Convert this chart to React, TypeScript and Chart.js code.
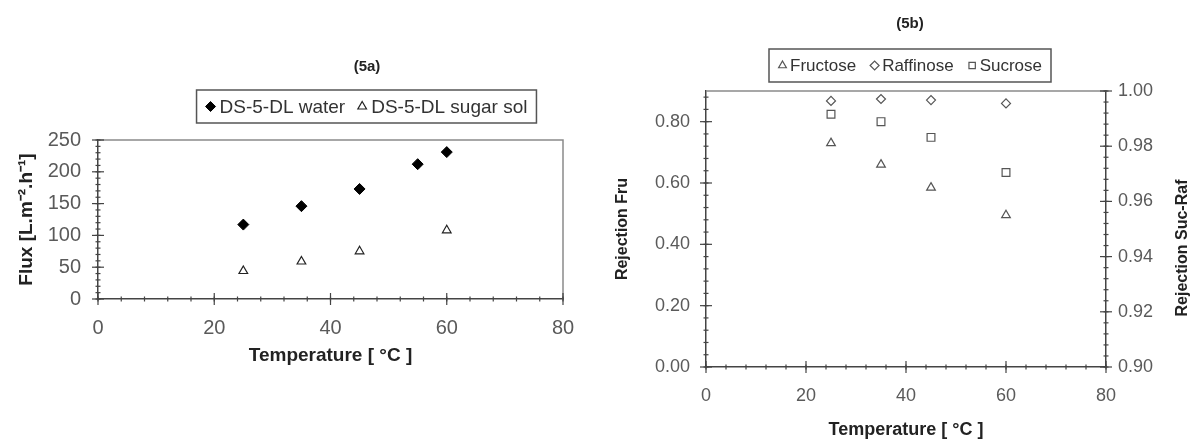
import React, { useEffect, useRef } from 'react';
import { Chart, registerables } from 'chart.js';

Chart.register(...registerables);

// ---------- data ----------
const TEMP_WATER = [25, 35, 45, 55, 60];
const FLUX_WATER = [117, 146, 173, 212, 231];
const TEMP_SUGAR = [25, 35, 45, 60];
const FLUX_SUGAR = [44, 59, 75, 108];

const TEMP_B = [25, 35, 45, 60];
const REJ_FRUCTOSE = [0.73, 0.66, 0.585, 0.495];
const REJ_RAFFINOSE = [0.9964, 0.9971, 0.9967, 0.9955];
const REJ_SUCROSE = [0.9916, 0.9889, 0.9832, 0.9705];

const X_TICKS = [0, 20, 40, 60, 80];
const FLUX_TICKS = [0, 50, 100, 150, 200, 250];
const FRU_TICKS = [0, 0.2, 0.4, 0.6, 0.8];
const SUCRAF_TICKS = [0.9, 0.92, 0.94, 0.96, 0.98, 1.0];

const LABELS_A = ['DS-5-DL water', 'DS-5-DL sugar sol'];
const LABELS_B = ['Fructose', 'Raffinose', 'Sucrose'];

const FONT = "'Liberation Sans', Arial, Helvetica, sans-serif";
const AXIS_COLOR = '#444';
const TICK_TEXT = '#5a5a5a';
const TITLE_TEXT = '#222';

// ---------- helpers ----------
function drawMarker(ctx: CanvasRenderingContext2D, style: string, x: number, y: number, r: number, fill: string | null, stroke: string | null, lw: number) {
  ctx.beginPath();
  if (style === 'rectRot') {
    ctx.moveTo(x - r, y);
    ctx.lineTo(x, y - r);
    ctx.lineTo(x + r, y);
    ctx.lineTo(x, y + r);
    ctx.closePath();
  } else if (style === 'triangle') {
    ctx.moveTo(x, y - r);
    ctx.lineTo(x + r * 0.866, y + r / 2);
    ctx.lineTo(x - r * 0.866, y + r / 2);
    ctx.closePath();
  } else {
    const s = r * Math.SQRT1_2;
    ctx.rect(x - s, y - s, 2 * s, 2 * s);
  }
  if (fill) {
    ctx.fillStyle = fill;
    ctx.fill();
  }
  if (stroke) {
    ctx.strokeStyle = stroke;
    ctx.lineWidth = lw;
    ctx.stroke();
  }
}

type TickSpec = { id: string; side: 'bottom' | 'left' | 'right'; majors: number[]; minorStep: number; min: number; max: number };

function decorPlugin(cfg: any) {
  return {
    id: 'decor',
    beforeDatasetsDraw(chart: any) {
      const { ctx, chartArea: a } = chart;
      ctx.save();
      ctx.strokeStyle = '#8a8a8a';
      ctx.lineWidth = 1.5;
      ctx.beginPath();
      ctx.moveTo(a.left, a.top);
      ctx.lineTo(a.right, a.top);
      if (cfg.frameRight) ctx.lineTo(a.right, a.bottom);
      ctx.stroke();
      ctx.restore();
    },
    afterDraw(chart: any) {
      const { ctx, chartArea: a } = chart;
      ctx.save();
      // tick marks (major crossing, minor small)
      ctx.strokeStyle = AXIS_COLOR;
      ctx.lineWidth = 1.2;
      (cfg.ticks as TickSpec[]).forEach((t) => {
        const sc = chart.scales[t.id];
        const draw = (v: number, len: number) => {
          const p = sc.getPixelForValue(v);
          ctx.beginPath();
          if (t.side === 'bottom') {
            ctx.moveTo(p, a.bottom - len);
            ctx.lineTo(p, a.bottom + len);
          } else {
            const x = t.side === 'left' ? a.left : a.right;
            ctx.moveTo(x - len, p);
            ctx.lineTo(x + len, p);
          }
          ctx.stroke();
        };
        const n = Math.round((t.max - t.min) / t.minorStep);
        for (let i = 0; i <= n; i++) draw(t.min + i * t.minorStep, 2.5);
        t.majors.forEach((v) => draw(v, 6));
      });

      // title
      ctx.fillStyle = TITLE_TEXT;
      ctx.font = cfg.title.font;
      ctx.textAlign = 'center';
      ctx.textBaseline = 'middle';
      ctx.fillText(cfg.title.text, cfg.title.x, cfg.title.y);

      // legend
      const L = cfg.legend;
      ctx.font = L.font;
      const ds = chart.data.datasets;
      const widths = ds.map((d: any) => ctx.measureText(d.label).width);
      const mw = 2 * L.r;
      let total = 2 * L.padX + L.itemGap * (ds.length - 1);
      widths.forEach((w: number) => (total += mw + L.gap + w));
      const left = L.cx - total / 2;
      ctx.strokeStyle = '#555';
      ctx.lineWidth = 1.5;
      ctx.strokeRect(left, L.cy - L.h / 2, total, L.h);
      let x = left + L.padX;
      ds.forEach((d: any, i: number) => {
        const fill = d.backgroundColor && d.backgroundColor !== 'rgba(0,0,0,0)' ? d.backgroundColor : null;
        drawMarker(ctx, d.pointStyle, x + L.r, L.cy, L.r, fill, d.borderColor, d.borderWidth || 1);
        x += mw + L.gap;
        ctx.fillStyle = '#333';
        ctx.textAlign = 'left';
        ctx.textBaseline = 'middle';
        ctx.fillText(d.label, x, L.cy + 1);
        x += widths[i] + L.itemGap;
      });

      // extra rotated text (right axis title)
      if (cfg.rightTitle) {
        const R = cfg.rightTitle;
        ctx.save();
        ctx.translate(R.x, R.y);
        ctx.rotate(-Math.PI / 2);
        ctx.font = R.font;
        ctx.fillStyle = TITLE_TEXT;
        ctx.textAlign = 'center';
        ctx.textBaseline = 'middle';
        ctx.fillText(R.text, 0, 0);
        ctx.restore();
      }
      ctx.restore();
    },
  };
}

function pts(xs: number[], ys: number[]) {
  return xs.map((x, i) => ({ x, y: ys[i] }));
}

function fixedTicks(arr: number[]) {
  return (s: any) => {
    s.ticks = arr.map((v) => ({ value: v }));
  };
}

// ---------- chart A ----------
function makeChartA(canvas: HTMLCanvasElement) {
  return new Chart(canvas, {
    type: 'scatter',
    data: {
      datasets: [
        {
          label: LABELS_A[0],
          data: pts(TEMP_WATER, FLUX_WATER),
          pointStyle: 'rectRot',
          pointRadius: 5.5,
          backgroundColor: '#000',
          borderColor: '#000',
          borderWidth: 1,
        },
        {
          label: LABELS_A[1],
          data: pts(TEMP_SUGAR, FLUX_SUGAR),
          pointStyle: 'triangle',
          pointRadius: 5,
          backgroundColor: 'rgba(0,0,0,0)',
          borderColor: '#222',
          borderWidth: 1.2,
        },
      ],
    },
    options: {
      animation: false,
      responsive: false,
      devicePixelRatio: 1,
      layout: { padding: { top: 140, left: 0, right: 33, bottom: 0 } },
      plugins: { legend: { display: false }, tooltip: { enabled: false }, title: { display: false } },
      scales: {
        x: {
          type: 'linear',
          min: 0,
          max: 80,
          afterBuildTicks: fixedTicks(X_TICKS),
          afterFit: (s: any) => {
            s.height = 144;
          },
          grid: { display: false, drawTicks: false },
          border: { display: true, color: AXIS_COLOR, width: 1.5 },
          ticks: { padding: 17, color: TICK_TEXT, font: { family: FONT, size: 20 } },
          title: {
            display: true,
            text: 'Temperature [ °C ]',
            color: TITLE_TEXT,
            font: { family: FONT, size: 19, weight: 'bold' },
            padding: { top: 0, bottom: 76 },
          },
        },
        y: {
          type: 'linear',
          min: 0,
          max: 250,
          afterBuildTicks: fixedTicks(FLUX_TICKS),
          afterFit: (s: any) => {
            s.width = 98;
          },
          grid: { display: false, drawTicks: false },
          border: { display: true, color: AXIS_COLOR, width: 1.5 },
          ticks: { padding: 17, color: TICK_TEXT, font: { family: FONT, size: 20 } },
          title: {
            display: true,
            text: 'Flux [L.m⁻².h⁻¹]',
            color: TITLE_TEXT,
            font: { family: FONT, size: 19, weight: 'bold' },
            padding: { top: 15, bottom: 0 },
          },
        },
      },
    } as any,
    plugins: [
      decorPlugin({
        frameRight: true,
        ticks: [
          { id: 'x', side: 'bottom', majors: X_TICKS, minorStep: 4, min: 0, max: 80 },
          { id: 'y', side: 'left', majors: FLUX_TICKS, minorStep: 10, min: 0, max: 250 },
        ],
        title: { text: '(5a)', x: 367, y: 67, font: `bold 15px ${FONT}` },
        legend: { cx: 366.5, cy: 106.5, h: 33, padX: 9, r: 5, gap: 4, itemGap: 12, font: `19px ${FONT}` },
      }),
    ],
  });
}

// ---------- chart B ----------
function makeChartB(canvas: HTMLCanvasElement) {
  return new Chart(canvas, {
    type: 'scatter',
    data: {
      datasets: [
        {
          label: LABELS_B[0],
          data: pts(TEMP_B, REJ_FRUCTOSE),
          yAxisID: 'y',
          pointStyle: 'triangle',
          pointRadius: 5,
          backgroundColor: 'rgba(0,0,0,0)',
          borderColor: '#555',
          borderWidth: 1.2,
        },
        {
          label: LABELS_B[1],
          data: pts(TEMP_B, REJ_RAFFINOSE),
          yAxisID: 'y2',
          pointStyle: 'rectRot',
          pointRadius: 4.5,
          backgroundColor: 'rgba(0,0,0,0)',
          borderColor: '#555',
          borderWidth: 1.2,
        },
        {
          label: LABELS_B[2],
          data: pts(TEMP_B, REJ_SUCROSE),
          yAxisID: 'y2',
          pointStyle: 'rect',
          pointRadius: 5.5,
          backgroundColor: 'rgba(0,0,0,0)',
          borderColor: '#555',
          borderWidth: 1.2,
        },
      ],
    },
    options: {
      animation: false,
      responsive: false,
      devicePixelRatio: 1,
      layout: { padding: { top: 91, left: 0, right: 0, bottom: 0 } },
      plugins: { legend: { display: false }, tooltip: { enabled: false }, title: { display: false } },
      scales: {
        x: {
          type: 'linear',
          min: 0,
          max: 80,
          afterBuildTicks: fixedTicks(X_TICKS),
          afterFit: (s: any) => {
            s.height = 76;
          },
          grid: { display: false, drawTicks: false },
          border: { display: true, color: AXIS_COLOR, width: 1.5 },
          ticks: { padding: 18, color: TICK_TEXT, font: { family: FONT, size: 18 } },
          title: {
            display: true,
            text: 'Temperature [ °C ]',
            color: TITLE_TEXT,
            font: { family: FONT, size: 18, weight: 'bold' },
            padding: { top: 0, bottom: 2 },
          },
        },
        y: {
          type: 'linear',
          position: 'left',
          min: 0,
          max: 0.9,
          afterBuildTicks: fixedTicks(FRU_TICKS),
          afterFit: (s: any) => {
            s.width = 110;
          },
          grid: { display: false, drawTicks: false },
          border: { display: true, color: AXIS_COLOR, width: 1.5 },
          ticks: {
            padding: 16,
            color: TICK_TEXT,
            font: { family: FONT, size: 18 },
            callback: (v: any) => Number(v).toFixed(2),
          },
          title: {
            display: true,
            text: 'Rejection Fru',
            color: TITLE_TEXT,
            font: { family: FONT, size: 16, weight: 'bold' },
            padding: { top: 17, bottom: 0 },
          },
        },
        y2: {
          type: 'linear',
          position: 'right',
          min: 0.9,
          max: 1.0,
          afterBuildTicks: fixedTicks(SUCRAF_TICKS),
          afterFit: (s: any) => {
            s.width = 86;
          },
          grid: { display: false, drawTicks: false },
          border: { display: true, color: AXIS_COLOR, width: 1.5 },
          ticks: {
            padding: 12,
            color: TICK_TEXT,
            font: { family: FONT, size: 18 },
            callback: (v: any) => Number(v).toFixed(2),
          },
        },
      },
    } as any,
    plugins: [
      decorPlugin({
        frameRight: false,
        ticks: [
          { id: 'x', side: 'bottom', majors: X_TICKS, minorStep: 4, min: 0, max: 80 },
          { id: 'y', side: 'left', majors: FRU_TICKS, minorStep: 0.04, min: 0, max: 0.88 },
          { id: 'y2', side: 'right', majors: SUCRAF_TICKS, minorStep: 0.004, min: 0.9, max: 1.0 },
        ],
        title: { text: '(5b)', x: 314, y: 24, font: `bold 15px ${FONT}` },
        legend: { cx: 314, cy: 65.5, h: 33, padX: 9, r: 4.5, gap: 3, itemGap: 14, font: `17px ${FONT}` },
        rightTitle: { text: 'Rejection Suc-Raf', x: 587, y: 248, font: `bold 16px ${FONT}` },
      }),
    ],
  });
}

export default function App() {
  const refA = useRef<HTMLCanvasElement>(null);
  const refB = useRef<HTMLCanvasElement>(null);
  useEffect(() => {
    const a = makeChartA(refA.current!);
    const b = makeChartB(refB.current!);
    return () => {
      a.destroy();
      b.destroy();
    };
  }, []);
  return (
    <div style={{ position: 'absolute', left: 0, top: 0, width: 1192, height: 443, background: '#fff', overflow: 'hidden' }}>
      <canvas ref={refA} width={596} height={443} style={{ position: 'absolute', left: 0, top: 0, width: 596, height: 443 }} />
      <canvas ref={refB} width={596} height={443} style={{ position: 'absolute', left: 596, top: 0, width: 596, height: 443 }} />
    </div>
  );
}
